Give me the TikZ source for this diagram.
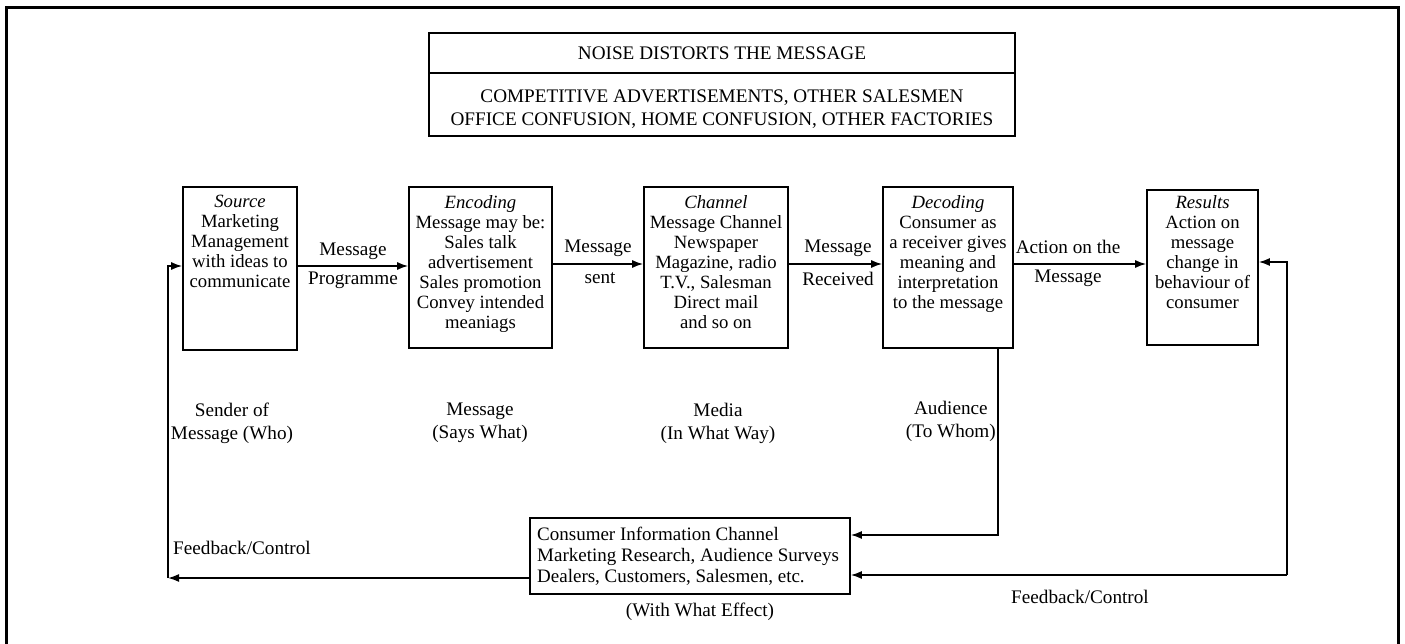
\documentclass[tikz,border=0pt]{standalone}
\usepackage{fontspec}
\setmainfont{Liberation Serif}
\usetikzlibrary{arrows.meta}
\begin{document}
\begin{tikzpicture}[x=1pt,y=-1pt,
  txt/.style={font=\fontsize{19.2}{20}\selectfont, inner sep=0pt, align=center},
  boxtxt/.style={txt, font=\fontsize{18.7}{20}\selectfont},
  boxed/.style={draw, line width=1.6pt, inner sep=0pt},
  flow/.style={line width=1.6pt, -{Latex[length=11pt,width=8pt]}},
  plain/.style={line width=1.6pt}]
\useasboundingbox (0,0) rectangle (1405,644);
% outer frame
\draw[line width=3pt] (6,644) -- (6,8) -- (1398,8) -- (1398,644);

% noise box
\node[boxed, minimum width=586pt, minimum height=103pt] (noise) at (722,84.5) {};
\draw[plain] (noise.west |- 0,73) -- (noise.east |- 0,73);
\node[txt] (noiseT) at (722,53) {NOISE DISTORTS THE MESSAGE};
\node[txt] (noiseA) at (722,98) {COMPETITIVE ADVERTISEMENTS, OTHER SALESMEN};
\node[txt] (noiseB) at (722,121) {OFFICE CONFUSION, HOME CONFUSION, OTHER FACTORIES};

% main boxes
\node[boxed, minimum width=114pt, minimum height=163pt] (src) at (240,268.5) {};
\node[boxed, minimum width=143pt, minimum height=161pt] (enc) at (480.5,267.5) {};
\node[boxed, minimum width=144pt, minimum height=161pt] (chn) at (716,267.5) {};
\node[boxed, minimum width=130pt, minimum height=161pt] (dec) at (948,267.5) {};
\node[boxed, minimum width=111pt, minimum height=155pt] (res) at (1202.5,267.5) {};

\node[boxtxt, anchor=north] (srcT) at ([yshift=-9pt]src.north) {\textit{Source}\\Marketing\\Management\\with ideas to\\communicate};
\node[boxtxt, anchor=north] (encT) at ([yshift=-9pt]enc.north) {\textit{Encoding}\\Message may be:\\Sales talk\\advertisement\\Sales promotion\\Convey intended\\meaniags};
\node[boxtxt, anchor=north] (chnT) at ([yshift=-9pt]chn.north) {\textit{Channel}\\Message Channel\\Newspaper\\Magazine, radio\\T.V., Salesman\\Direct mail\\and so on};
\node[boxtxt, anchor=north] (decT) at ([yshift=-9pt]dec.north) {\textit{Decoding}\\Consumer as\\a receiver gives\\meaning and\\interpretation\\to the message};
\node[boxtxt, anchor=north] (resT) at ([yshift=-6pt]res.north) {\textit{Results}\\Action on\\message\\change in\\behaviour of\\consumer};

% forward flow
\draw[flow] (src.east |- 0,266) -- (enc.west |- 0,266);
\draw[flow] (enc.east |- 0,264) -- (chn.west |- 0,264);
\draw[flow] (chn.east |- 0,264) -- (dec.west |- 0,264);
\draw[flow] (dec.east |- 0,264) -- (res.west |- 0,264);

\node[txt] (l1a) at (353,251) {Message};
\node[txt] (l1b) at (353,280) {Programme};
\node[txt] (l2a) at (598,248) {Message};
\node[txt] (l2b) at (600,278) {sent};
\node[txt] (l3a) at (838,248) {Message};
\node[txt] (l3b) at (838,279) {Received};
\node[txt] (l4a) at (1068,247) {Action on the};
\node[txt] (l4b) at (1068,278) {Message};

% role captions
\node[txt, align=center] (c1) at (232,423) {Sender of\\[3pt]Message (Who)};
\node[txt, align=center] (c2) at (480,423) {Message\\[3pt](Says What)};
\node[txt, align=center] (c3) at (718,423) {Media\\[3pt](In What Way)};
\node[txt, align=center, anchor=east] (c4) at (996,421) {Audience\\[3pt](To Whom)};

% feedback box
\node[boxed, minimum width=320pt, minimum height=76pt] (info) at (690,556) {};
\node[txt, anchor=west, align=left, font=\fontsize{19}{21}\selectfont] (infoT) at (537,556)
  {Consumer Information Channel\\Marketing Research, Audience Surveys\\Dealers, Customers, Salesmen, etc.};
\node[txt] (c5) at (700,612) {(With What Effect)};

% feedback loops
\coordinate (decD) at (998,535);
\draw[flow] (dec.south -| decD) -- (decD) -- (info.east |- decD);

\coordinate (fbR) at (1287,575);
\draw[flow] (fbR) |- (res.east |- 0,262);
\draw[flow] (fbR) -- (info.east |- fbR);
\node[txt] (fbRT) at (1080,597) {Feedback/Control};

\coordinate (fbL) at (168,578);
\draw[flow] (info.west |- fbL) -- (fbL);
\draw[flow] (fbL) |- (src.west |- 0,266);
\node[txt, anchor=west] (fbLT) at (173,548) {Feedback/Control};
\end{tikzpicture}
\end{document}
